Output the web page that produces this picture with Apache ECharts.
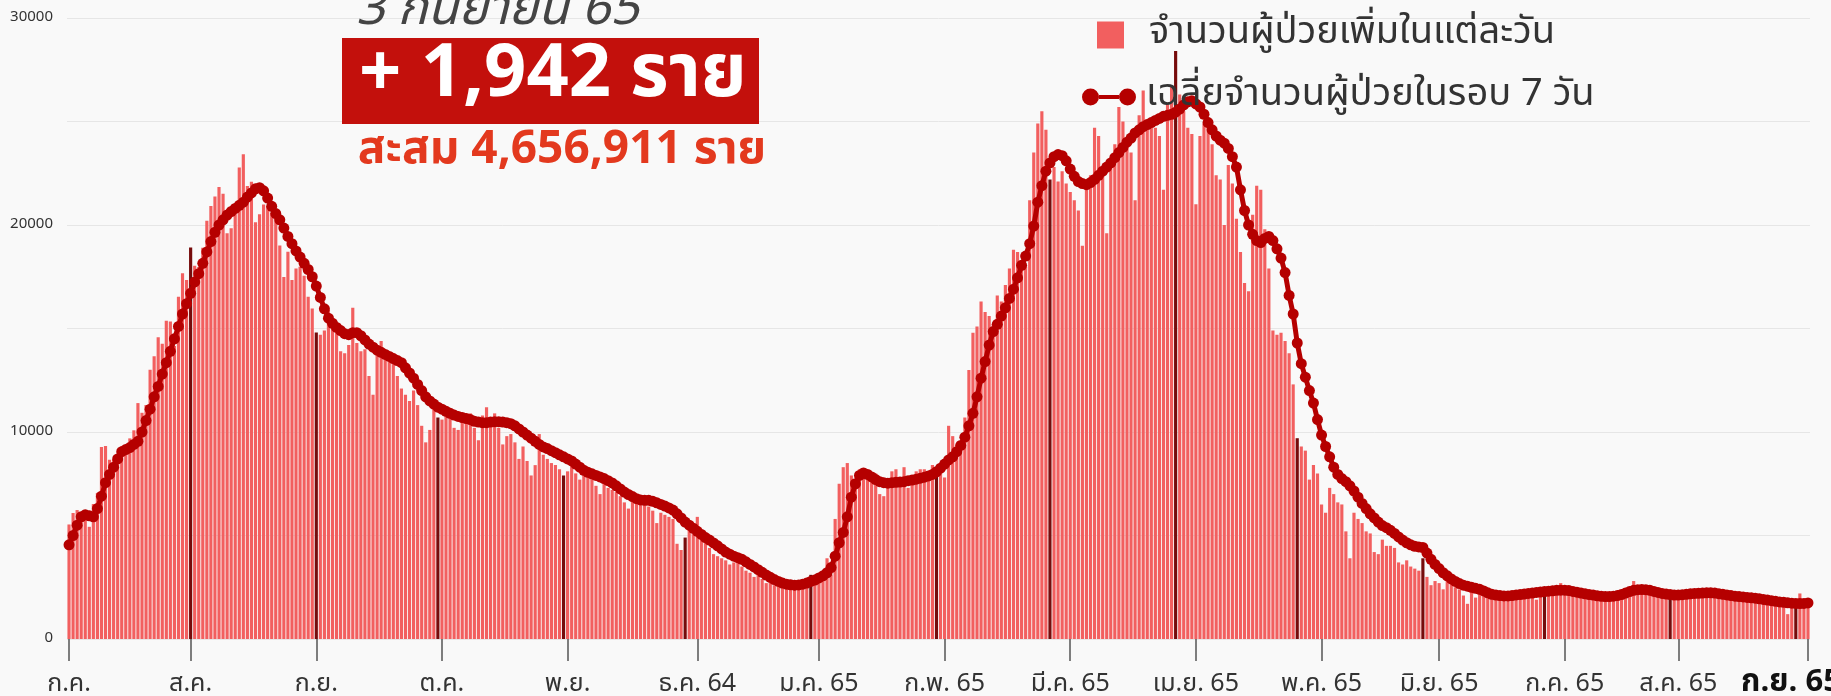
<!DOCTYPE html>
<html>
<head>
<meta charset="utf-8">
<script src="https://cdn.jsdelivr.net/npm/echarts@6/dist/echarts.min.js"></script>
<style>
html, body { margin: 0; padding: 0; background: #f9f9f9; }
#chart { width: 1831px; height: 696px; }
</style>
</head>
<body>
<div id="chart"></div>
<script>
var FONT = "'Noto Sans Thai', 'Noto Sans', 'DejaVu Sans', sans-serif";

// ผู้ป่วยเพิ่มรายวัน (ก.ค. 64 - 3 ก.ย. 65)
var jul21 = [5533, 6087, 6230, 5916, 6166, 5420, 6519, 7058, 9276, 9326, 8656, 8685, 8685, 9317, 9186, 9692, 10082, 11397, 10928, 11305, 13002, 13655, 14575, 14260, 15376, 15335, 14150, 16533, 17669, 17345, 18912];
var aug21 = [18027, 17970, 18901, 20200, 20920, 21379, 21838, 21511, 19603, 19843, 21038, 22782, 23418, 21882, 22086, 20128, 20515, 20994, 20902, 20571, 20420, 19014, 17491, 18702, 17345, 17897, 17984, 17553, 16536, 15972, 14802];
var sep21 = [14700, 14900, 15900, 15400, 14800, 13900, 13800, 14200, 16000, 14300, 13900, 14000, 12700, 11800, 13800, 14400, 13700, 13400, 13800, 12700, 12100, 11800, 11500, 12000, 11300, 10300, 9500, 10100, 11200, 10700];
var oct21 = [10600, 10800, 10900, 10200, 10100, 10500, 10700, 10900, 10200, 9600, 10800, 11200, 10700, 10900, 10200, 9400, 9800, 9900, 9500, 8700, 9300, 8600, 7900, 8400, 9900, 8900, 8700, 8500, 8400, 8200, 7900];
var nov21 = [8100, 8400, 8000, 7700, 8200, 8100, 7800, 7400, 7000, 7600, 7300, 7200, 7100, 6900, 6600, 6300, 7000, 6800, 6700, 6900, 6400, 6200, 5600, 6100, 6000, 5900, 5800, 4600, 4300, 4900];
var dec21 = [5300, 5100, 5900, 4900, 4700, 4400, 4100, 4000, 3900, 3800, 3600, 3700, 3900, 3500, 3300, 3200, 3000, 3100, 2900, 2700, 2800, 2600, 2550, 2500, 2450, 2400, 2600, 2500, 2700, 2900, 3100];
var jan22 = [3100, 3000, 2900, 3900, 3100, 5800, 7500, 8300, 8500, 7900, 7700, 8200, 8200, 8100, 7800, 8000, 7000, 6900, 7400, 8100, 8200, 7800, 8300, 7300, 7600, 8100, 8200, 8200, 8100, 8400, 8100];
var feb22 = [8000, 7800, 10300, 9800, 9400, 9200, 10700, 13000, 14800, 15100, 16300, 15800, 15600, 15200, 16600, 16300, 17100, 17900, 18800, 18700, 18300, 18000, 21200, 23500, 24900, 25500, 24600, 22200];
var mar22 = [22800, 22100, 22600, 22000, 21600, 21200, 20700, 19000, 21700, 22400, 24700, 24300, 22500, 19600, 23000, 23900, 25700, 25000, 24000, 23500, 21200, 25300, 26500, 25100, 24800, 24700, 24300, 21700, 25900, 26700, 28400];
var apr22 = [26300, 25500, 24700, 24400, 21000, 24300, 24900, 25200, 23900, 22400, 22200, 20000, 22900, 22000, 20300, 18700, 17200, 16800, 20500, 21900, 21700, 19800, 17900, 14900, 14700, 14800, 14400, 13800, 12300, 9700];
var may22 = [9300, 9100, 7700, 8400, 8000, 6500, 6100, 7300, 7000, 6600, 6500, 5200, 3900, 6100, 5800, 5600, 5200, 5100, 4200, 4100, 4800, 4500, 4500, 4400, 3700, 3600, 3800, 3500, 3400, 3300, 3900];
var jun22 = [3000, 2600, 2800, 2700, 2400, 2800, 2700, 2500, 2400, 2100, 1700, 2300, 2000, 2200, 2200, 2100, 2100, 2000, 2100, 2000, 1900, 2100, 2200, 2100, 2000, 2200, 2000, 1900, 2100, 2300];
var jul22 = [2400, 2300, 2200, 2700, 2300, 2400, 2200, 2300, 2100, 2000, 2100, 2200, 2000, 1900, 2100, 2000, 2100, 2200, 2100, 2300, 2400, 2800, 2300, 2400, 2300, 2200, 2300, 2200, 2100, 2200, 2000];
var aug22 = [2100, 2000, 2200, 2300, 2200, 2100, 2300, 2200, 2300, 2200, 2100, 2200, 2000, 2100, 2100, 2000, 1900, 2000, 2000, 1900, 1900, 1800, 2000, 1800, 1800, 1700, 1800, 1700, 1200, 1800, 1700];
var sep22 = [2200, 1900, 1942];

// เฉลี่ย 7 วัน
var avgJul21 = [4550, 5000, 5500, 5900, 6000, 5950, 5900, 6300, 6900, 7550, 7950, 8300, 8700, 9050, 9150, 9250, 9400, 9550, 10000, 10550, 11100, 11700, 12200, 12800, 13350, 13900, 14500, 15100, 15700, 16200, 16700];
var avgAug21 = [17250, 17650, 18150, 18700, 19200, 19650, 20000, 20250, 20480, 20650, 20800, 20950, 21100, 21350, 21550, 21750, 21800, 21650, 21300, 20900, 20550, 20250, 19850, 19450, 19100, 18750, 18450, 18150, 17850, 17500, 17050];
var avgSep21 = [16500, 15950, 15500, 15250, 15050, 14900, 14750, 14700, 14800, 14800, 14650, 14450, 14250, 14100, 13950, 13850, 13750, 13650, 13550, 13450, 13350, 13100, 12850, 12600, 12300, 12000, 11700, 11500, 11350, 11200];
var avgOct21 = [11100, 11000, 10900, 10820, 10750, 10700, 10650, 10600, 10520, 10480, 10450, 10450, 10480, 10500, 10500, 10480, 10450, 10400, 10300, 10150, 10000, 9850, 9700, 9550, 9400, 9280, 9200, 9100, 9000, 8900, 8800];
var avgNov21 = [8700, 8600, 8450, 8300, 8150, 8050, 7980, 7900, 7830, 7750, 7650, 7540, 7400, 7250, 7100, 6980, 6880, 6780, 6720, 6700, 6700, 6650, 6580, 6500, 6420, 6330, 6230, 6050, 5850, 5650];
var avgDec21 = [5500, 5350, 5200, 5050, 4900, 4780, 4640, 4500, 4350, 4200, 4100, 4000, 3930, 3850, 3730, 3600, 3480, 3350, 3220, 3090, 2980, 2870, 2780, 2700, 2650, 2620, 2600, 2610, 2650, 2700, 2780];
var avgJan22 = [2850, 2950, 3050, 3200, 3450, 4000, 4650, 5150, 5900, 6850, 7500, 7900, 8020, 7950, 7830, 7700, 7600, 7550, 7530, 7550, 7570, 7580, 7600, 7650, 7680, 7720, 7770, 7820, 7880, 7950, 8080];
var avgFeb22 = [8250, 8450, 8650, 8800, 9050, 9350, 9750, 10300, 10900, 11700, 12600, 13400, 14200, 14850, 15200, 15600, 16000, 16450, 16900, 17450, 18050, 18500, 19100, 19950, 21100, 21900, 22600, 23000];
var avgMar22 = [23300, 23400, 23350, 23100, 22700, 22350, 22100, 22000, 21950, 22050, 22200, 22400, 22600, 22800, 23000, 23250, 23500, 23750, 24000, 24200, 24450, 24600, 24750, 24850, 24950, 25050, 25150, 25250, 25300, 25350, 25450];
var avgApr22 = [25600, 25800, 25950, 26000, 25850, 25700, 25350, 24950, 24600, 24300, 24100, 23950, 23700, 23300, 22800, 21700, 20700, 20000, 19550, 19250, 19150, 19350, 19450, 19250, 18850, 18400, 17700, 16600, 15700, 14300];
var avgMay22 = [13300, 12650, 12000, 11400, 10600, 9850, 9300, 8800, 8300, 7950, 7750, 7600, 7400, 7150, 6850, 6550, 6300, 6050, 5850, 5650, 5480, 5380, 5250, 5100, 4930, 4780, 4650, 4550, 4480, 4450, 4420];
var avgJun22 = [4150, 3850, 3600, 3400, 3200, 3050, 2900, 2780, 2680, 2600, 2550, 2500, 2450, 2400, 2320, 2230, 2160, 2120, 2100, 2080, 2080, 2100, 2130, 2150, 2170, 2200, 2220, 2250, 2270, 2290];
var avgJul22 = [2310, 2330, 2350, 2360, 2360, 2340, 2300, 2260, 2220, 2180, 2150, 2120, 2090, 2060, 2050, 2050, 2070, 2100, 2150, 2220, 2290, 2350, 2380, 2390, 2380, 2350, 2300, 2250, 2200, 2170, 2150];
var avgAug22 = [2120, 2120, 2140, 2160, 2180, 2200, 2210, 2220, 2230, 2230, 2220, 2190, 2160, 2130, 2100, 2070, 2050, 2030, 2010, 1990, 1970, 1940, 1910, 1880, 1850, 1820, 1790, 1770, 1750, 1730, 1720];
var avgSep22 = [1710, 1720, 1740];

// ป้ายแกน x และตำแหน่ง (ลำดับวัน)
var tickIdx = [0, 30, 61, 92, 123, 155, 185, 216, 247, 278, 309, 338, 369, 397, 429];
var tickText = ['ก.ค.', 'ส.ค.', 'ก.ย.', 'ต.ค.', 'พ.ย.', 'ธ.ค. 64', 'ม.ค. 65', 'ก.พ. 65', 'มี.ค. 65', 'เม.ย. 65', 'พ.ค. 65', 'มิ.ย. 65', 'ก.ค. 65', 'ส.ค. 65', 'ก.ย. 65'];
// วันสิ้นเดือน (แท่งสีเข้ม)
var monthEnd = [30, 61, 91, 122, 152, 183, 214, 242, 273, 303, 334, 364, 395, 426];

var daily = [].concat(jul21, aug21, sep21, oct21, nov21, dec21, jan22, feb22, mar22, apr22, may22, jun22, jul22, aug22, sep22);
var avg7 = [].concat(avgJul21, avgAug21, avgSep21, avgOct21, avgNov21, avgDec21, avgJan22, avgFeb22, avgMar22, avgApr22, avgMay22, avgJun22, avgJul22, avgAug22, avgSep22);

var dates = [];
for (var i = 0; i < daily.length; i++) {
    var d = new Date(2021, 6, 1 + i);
    dates.push(d.getFullYear() + '-' + (d.getMonth() + 1) + '-' + d.getDate());
}

var NAME_BAR = 'จำนวนผู้ป่วยเพิ่มในแต่ละวัน';
var NAME_LINE = 'เฉลี่ยจำนวนผู้ป่วยในรอบ 7 วัน';
var BAR_COLOR = '#f25f5f';
var DARK_COLOR = '#760b0b';
var LINE_COLOR = '#b50000';

function showTick(idx) {
    return tickIdx.indexOf(idx) >= 0;
}

var chart = echarts.init(document.getElementById('chart'));
chart.setOption({
    backgroundColor: '#f9f9f9',
    animation: false,
    textStyle: { fontFamily: FONT },
    grid: { left: 67, right: 21, top: 18, bottom: 57, outerBoundsMode: 'none', containLabel: false },
    legend: [
        {
            data: [{ name: NAME_BAR, itemStyle: { color: BAR_COLOR } }],
            left: 1092, top: 11,
            itemWidth: 27, itemHeight: 27,
            icon: 'rect',
            textStyle: { fontSize: 38, color: '#333', padding: [0, 0, 0, 20] }
        },
        {
            data: [{ name: NAME_LINE, itemStyle: { color: LINE_COLOR, borderWidth: 0 } }],
            left: 1077, top: 73,
            itemWidth: 54, itemHeight: 17,
            icon: 'path://M0,8.5a8.5,8.5 0 1,0 17,0a8.5,8.5 0 1,0 -17,0z M37,8.5a8.5,8.5 0 1,0 17,0a8.5,8.5 0 1,0 -17,0z M17,6.5h20v4h-20z',
            textStyle: { fontSize: 38, color: '#333', padding: [0, 0, 0, 5] }
        }
    ],
    xAxis: {
        type: 'category',
        data: dates,
        axisLine: { show: true, lineStyle: { color: 'rgba(0,0,0,0)' } },
        axisTick: {
            show: true,
            interval: showTick,
            alignWithLabel: true,
            length: 22,
            lineStyle: { color: '#555', width: 1.5 }
        },
        axisLabel: {
            interval: showTick,
            margin: 34,
            fontSize: 25,
            color: '#333',
            formatter: function (v, idx) {
                var k = tickIdx.indexOf(idx);
                if (k < 0) return '';
                return k === tickIdx.length - 1 ? '{b|' + tickText[k] + '}' : tickText[k];
            },
            rich: {
                b: { fontSize: 31, lineHeight: 24, fontWeight: 'bold', color: '#111', padding: [0, 34, 0, 0] }
            }
        },
        splitLine: { show: false }
    },
    yAxis: {
        type: 'value',
        min: 0, max: 30000, interval: 5000,
        axisLine: { show: false },
        axisTick: { show: false },
        axisLabel: {
            fontSize: 15, color: '#333', margin: 14,
            formatter: function (v) { return v % 10000 === 0 ? String(v) : ''; }
        },
        splitLine: { lineStyle: { color: '#e6e6e6', width: 1 } }
    },
    series: [
        {
            name: NAME_BAR,
            type: 'bar',
            data: daily,
            barCategoryGap: '22%',
            itemStyle: {
                color: function (p) {
                    return monthEnd.indexOf(p.dataIndex) >= 0 ? DARK_COLOR : BAR_COLOR;
                }
            }
        },
        {
            name: NAME_LINE,
            type: 'line',
            data: avg7,
            z: 3,
            symbol: 'circle',
            symbolSize: 11,
            showAllSymbol: true,
            itemStyle: { color: LINE_COLOR },
            lineStyle: { color: LINE_COLOR, width: 5 }
        }
    ],
    graphic: [
        {
            type: 'text', x: 356, y: 14, z: 100,
            style: { text: '3 กันยายน 65', fontSize: 50, fontStyle: 'italic', fontFamily: FONT, fill: '#444', verticalAlign: 'middle' }
        },
        {
            type: 'rect', z: 100,
            shape: { x: 342, y: 38, width: 417, height: 86 },
            style: { fill: '#c3100c' }
        },
        {
            type: 'text', x: 553, y: 81, z: 101,
            style: { text: '+ 1,942 ราย', fontSize: 74, fontWeight: 'bold', fontFamily: FONT, fill: '#fff', align: 'center', verticalAlign: 'middle' }
        },
        {
            type: 'text', x: 562, y: 154, z: 100,
            style: { text: 'สะสม 4,656,911 ราย', fontSize: 46, fontWeight: 'bold', fontFamily: FONT, fill: '#e3391e', align: 'center', verticalAlign: 'middle' }
        }
    ]
});
</script>
</body>
</html>
